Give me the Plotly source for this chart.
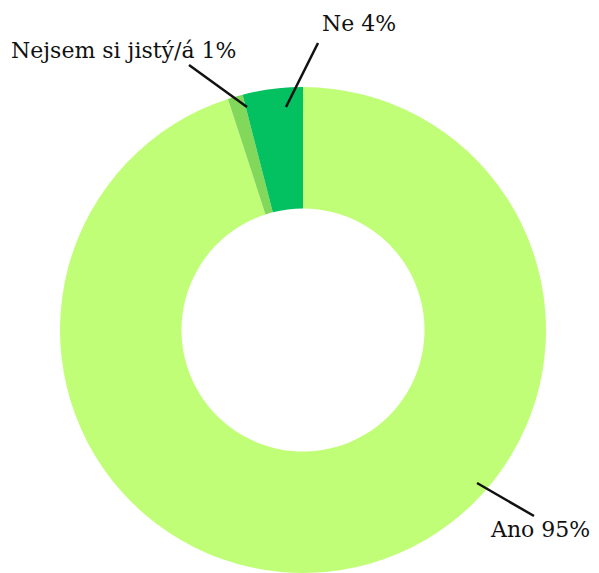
import plotly.graph_objects as go

# page body has an 8px margin; figure coordinates are shifted accordingly
OFF = 8
W, H = 591, 565

labels = ["Ano", "Nejsem si jistý/á", "Ne"]
values = [95, 1, 4]
colors = ["#C1FE78", "#82D85A", "#03C160"]

# label text positions (screen px) and leader line endpoints (screen px)
label_pos = [(540, 529), (124, 50), (359, 23)]
leader = [(477, 483, 534, 516), (247, 107, 189, 65), (286, 107, 318, 43)]

def px(x):
    return (x - OFF) / W

def py(y):
    return 1 - (y - OFF) / H

# pie geometry on screen: center (303, 330), radius 243
cx, cy, r = 303, 330, 243

fig = go.Figure(go.Pie(
    labels=labels,
    values=values,
    marker=dict(colors=colors, line=dict(width=0)),
    hole=0.5,
    sort=False,
    direction="clockwise",
    rotation=0,
    textinfo="none",
    hoverinfo="label+percent",
    showlegend=False,
    domain=dict(x=[px(cx - r), px(cx + r)], y=[0, py(cy - r)]),
))

font = dict(family="DejaVu Serif", size=22, color="#111111")
shapes = []
annotations = []
for lab, v, (tx, ty), (x0, y0, x1, y1) in zip(labels, values, label_pos, leader):
    annotations.append(dict(
        x=px(tx), y=py(ty), xref="paper", yref="paper",
        text=f"{lab} {v}%", showarrow=False, font=font,
        xanchor="center", yanchor="middle",
    ))
    shapes.append(dict(
        type="line", xref="paper", yref="paper",
        x0=px(x0), y0=py(y0), x1=px(x1), y1=py(y1),
        line=dict(color="#111111", width=2.5),
    ))

fig.update_layout(
    width=W, height=H,
    margin=dict(l=0, r=0, t=0, b=0),
    paper_bgcolor="white",
    plot_bgcolor="white",
    annotations=annotations,
    shapes=shapes,
)

fig.write_html("out.html")
